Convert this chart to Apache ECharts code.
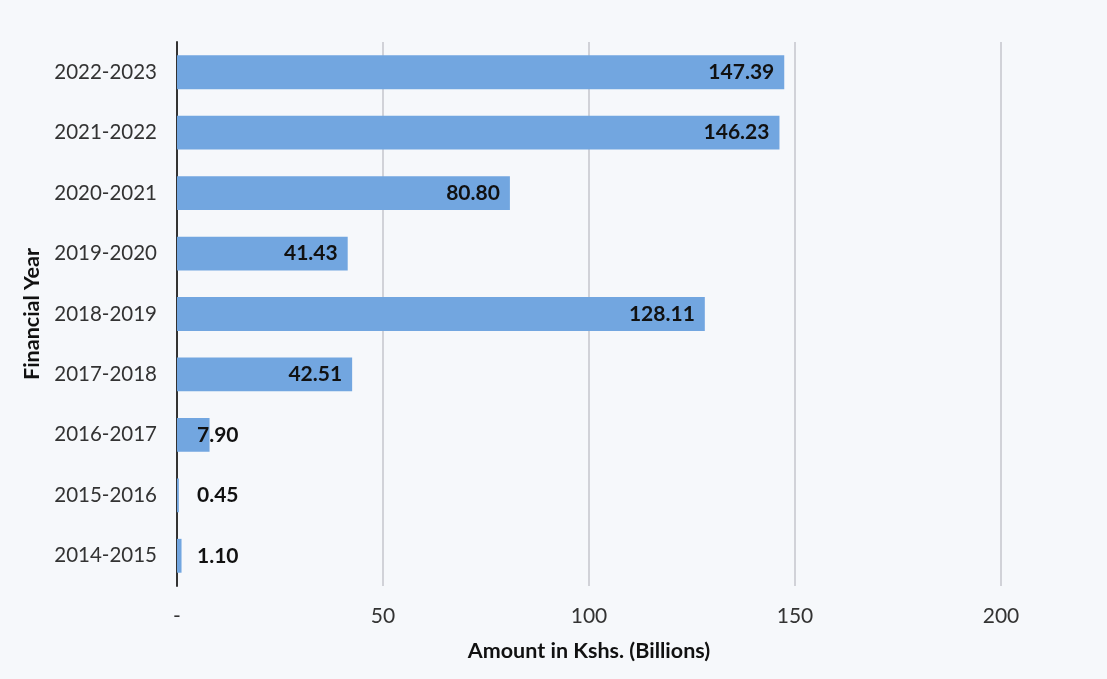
<!DOCTYPE html>
<html>
<head>
<meta charset="utf-8">
<script src="https://cdn.jsdelivr.net/npm/echarts@6/dist/echarts.min.js"></script>
<style>
html,body{margin:0;padding:0;background:#f6f8fb;}
#c{width:1107px;height:679px;}
</style>
</head>
<body>
<div id="c"></div>
<script>
const categories = ['2014-2015','2015-2016','2016-2017','2017-2018','2018-2019','2019-2020','2020-2021','2021-2022','2022-2023'];
const amounts = [1.10, 0.45, 7.90, 42.51, 128.11, 41.43, 80.80, 146.23, 147.39];
const xTicks = {min: 0, max: 200, interval: 50};

const chart = echarts.init(document.getElementById('c'));
const font = 'Lato, "Open Sans", sans-serif';
chart.setOption({
  backgroundColor: '#f6f8fb',
  animation: false,
  grid: {left: 177, right: 106, top: 42, bottom: 93, containLabel: false},
  xAxis: {
    type: 'value', min: xTicks.min, max: xTicks.max, interval: xTicks.interval,
    name: 'Amount in Kshs. (Billions)', nameLocation: 'middle', nameGap: 54,
    nameTextStyle: {fontFamily: font, fontWeight: 'bold', fontSize: 21.5, color: '#111'},
    axisLine: {show: false}, axisTick: {show: false},
    axisLabel: {fontFamily: font, fontSize: 21, color: '#333', margin: 20,
      formatter: v => v === 0 ? '-' : String(v)},
    splitLine: {show: true, lineStyle: {color: '#c4c6cc', width: 1.5}}
  },
  yAxis: {
    type: 'category', data: categories,
    name: 'Financial Year', nameLocation: 'middle', nameGap: 124,
    nameTextStyle: {fontFamily: font, fontWeight: 'bold', fontSize: 21.5, color: '#111'},
    axisLine: {show: true, lineStyle: {color: '#333', width: 2}},
    axisTick: {show: false},
    axisLabel: {fontFamily: font, fontSize: 20.5, color: '#333', margin: 20}
  },
  series: [{
    type: 'bar',
    data: amounts.map(v => ({
      value: v,
      label: v < 20 ? {position: [20, '50%'], align: 'left', verticalAlign: 'middle'} : {position: 'insideRight', distance: 10}
    })),
    barCategoryGap: '44%',
    itemStyle: {color: '#72a6e0'},
    label: {show: true, fontFamily: font, fontWeight: 'bold', fontSize: 21, color: '#111',
      formatter: p => p.value.toFixed(2)}
  }]
});
</script>
</body>
</html>
